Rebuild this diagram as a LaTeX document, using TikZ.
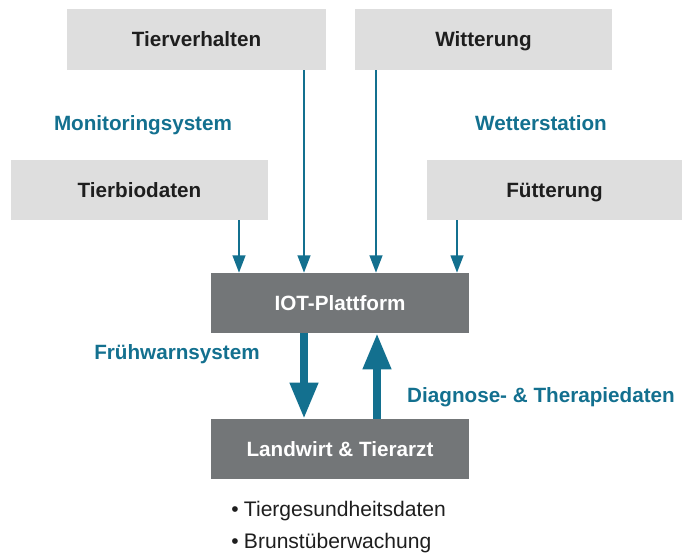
\documentclass[tikz,border=0pt]{standalone}
\usepackage{fontspec}
\setmainfont{Liberation Sans}
\usetikzlibrary{arrows.meta}
\definecolor{teal1}{HTML}{13708F}
\definecolor{lightbox}{HTML}{DEDEDE}
\definecolor{darkbox}{HTML}{737678}
\definecolor{txt}{HTML}{1E1E1E}
\begin{document}
\begin{tikzpicture}[x=0.75pt,y=-0.75pt,
  lbox/.style={fill=lightbox, draw=none, inner sep=0pt, minimum height=45.5pt,
    text height=11.1pt, text depth=0pt,
    font=\fontsize{15.5}{18}\selectfont\bfseries, text=txt},
  dbox/.style={fill=darkbox, draw=none, inner sep=0pt, minimum width=193.5pt, minimum height=45pt,
    text height=11.1pt, text depth=0pt,
    font=\fontsize{15.5}{18}\selectfont\bfseries, text=white},
  lbl/.style={font=\fontsize{15.5}{18}\selectfont\bfseries, text=teal1, inner sep=0pt,
    text height=11.1pt, text depth=0pt},
  thinarr/.style={draw=teal1, line width=1.6pt, -{Triangle[width=9.5pt,length=13pt]}},
  thickarr/.style={draw=teal1, line width=6pt, -{Triangle[width=20pt,length=27pt]}},
  bul/.style={font=\fontsize{15.8}{18}\selectfont, text=txt, inner sep=0pt, anchor=west,
    text height=11.2pt, text depth=0pt}]
\useasboundingbox (0,0) rectangle (682,553);
\node[lbox, minimum width=194.25pt] (tv) at (196.5,39.5) {Tierverhalten};
\node[lbox, minimum width=192.75pt] (wi) at (483.5,39.5) {Witterung};
\node[lbox, minimum width=192.75pt, minimum height=45pt] (tb) at (139.5,190) {Tierbiodaten};
\node[lbox, minimum width=191.25pt, minimum height=45pt] (fu) at (554.5,190) {Fütterung};
\node[dbox] (iot) at (340,303) {IOT-Plattform};
\node[dbox] (lw) at (340,449) {Landwirt \& Tierarzt};
\node[lbl] (mon) at (143,123) {Monitoringsystem};
\node[lbl] (wet) at (541,123) {Wetterstation};
\node[lbl] (fru) at (177,352) {Frühwarnsystem};
\node[lbl] (dia) at (541,395) {Diagnose- \& Therapiedaten};
\node[bul] (b1) at (231,509.5) {\textbullet\hspace{4pt}Tiergesundheitsdaten};
\node[bul] (b2) at (231,541.5) {\textbullet\hspace{4pt}Brunstüberwachung};
\coordinate (x1) at (239,0);
\coordinate (x2) at (304,0);
\coordinate (x3) at (376,0);
\coordinate (x4) at (457,0);
\coordinate (x5) at (377,0);
\draw[thinarr] (tb.south -| x1) -- (iot.north -| x1);
\draw[thinarr] (tv.south -| x2) -- (iot.north -| x2);
\draw[thinarr] (wi.south -| x3) -- (iot.north -| x3);
\draw[thinarr] (fu.south -| x4) -- (iot.north -| x4);
\draw[thickarr] (iot.south -| x2) -- (lw.north -| x2);
\draw[thickarr] (lw.north -| x5) -- (iot.south -| x5);
\end{tikzpicture}
\end{document}
